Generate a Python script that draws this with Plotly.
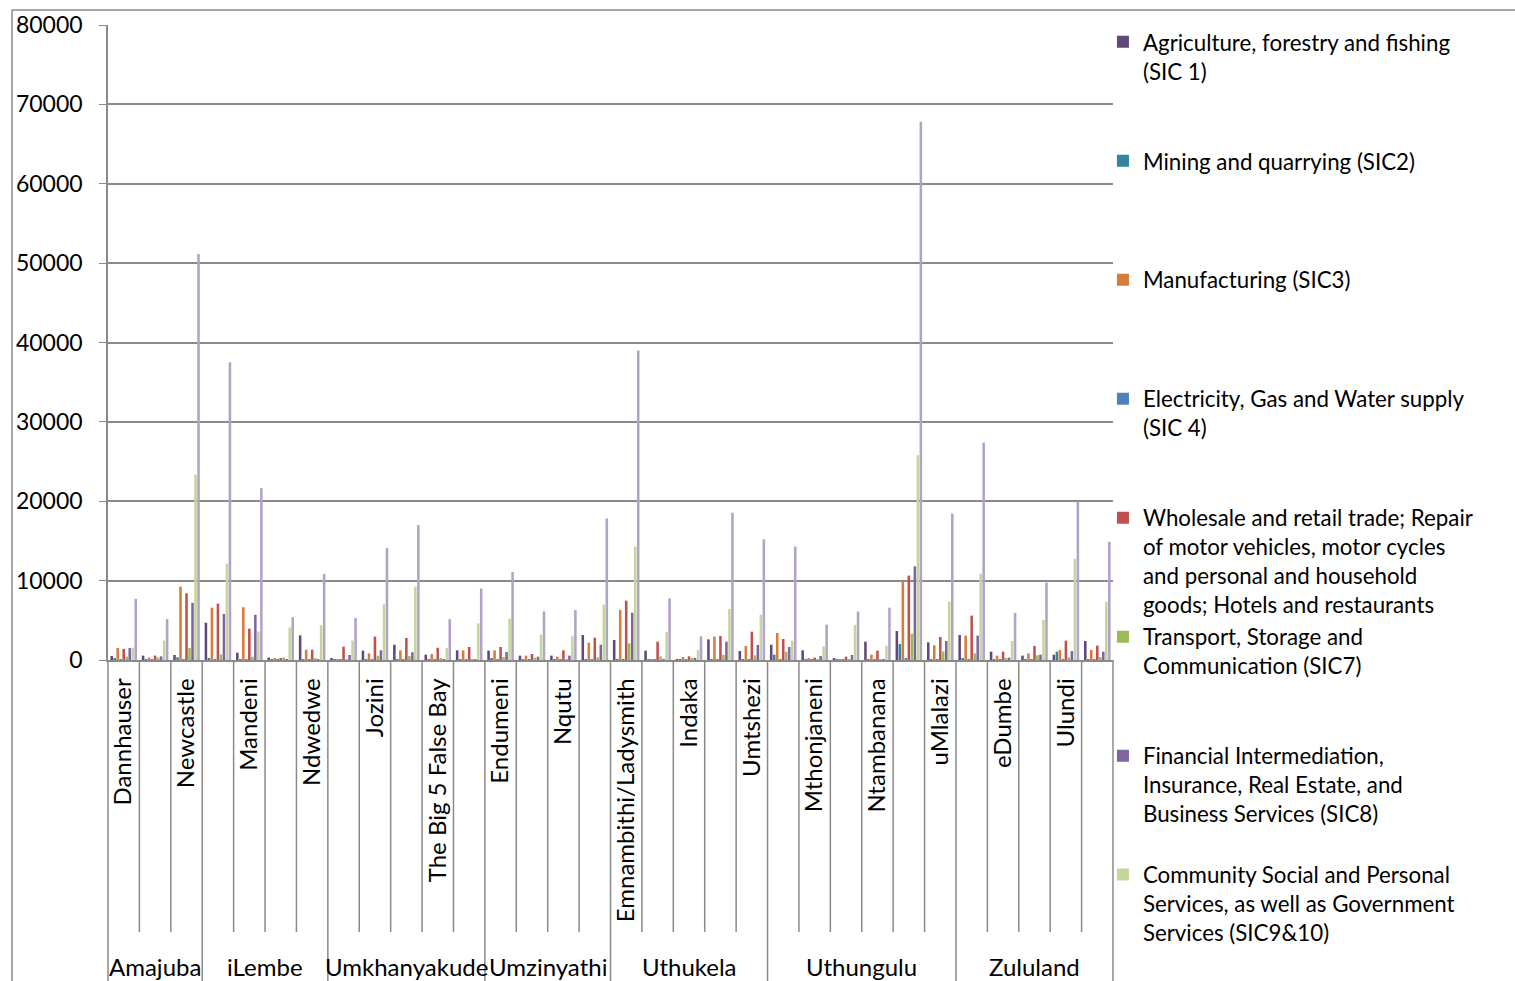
import plotly.graph_objects as go

municipalities = [
    "Dannhauser", "eMadlangeni", "Newcastle",
    "KwaDukuza", "Mandeni", "Maphumulo", "Ndwedwe",
    "Hlabisa", "Jozini", "Mtubatuba", "The Big 5 False Bay", "Umhlabuyalingana",
    "Endumeni", "Msinga", "Nqutu", "Umvoti",
    "Emnambithi/Ladysmith", "Imbabazane", "Indaka", "Okhahlamba", "Umtshezi",
    "Mbonambi", "Mthonjaneni", "Nkandla", "Ntambanana", "uMhlathuze", "uMlalazi",
    "Abaqulusi", "eDumbe", "Nongoma", "Ulundi", "uPhongolo",
]
districts = (
    ["Amajuba"] * 3 + ["iLembe"] * 4 + ["Umkhanyakude"] * 5 + ["Umzinyathi"] * 4
    + ["Uthukela"] * 5 + ["Uthungulu"] * 6 + ["Zululand"] * 5
)

agriculture   = [500, 550, 630, 4700, 920, 300, 3100, 170, 1180, 1930, 670, 1220, 1180, 550, 550, 3150,
                 2520, 1180, 60, 2600, 1130, 1930, 1220, 210, 2310, 3650, 2230, 3150, 1050, 550, 670, 2390]
mining        = [250, 30, 340, 170, 40, 10, 20, 10, 20, 30, 20, 10, 170, 10, 10, 20,
                 40, 10, 10, 30, 20, 670, 10, 10, 10, 2020, 30, 170, 10, 10, 1050, 20]
manufacturing = [1500, 300, 9250, 6600, 6650, 170, 1300, 80, 840, 1220, 760, 1220, 1220, 550, 420, 2180,
                 6300, 60, 380, 2940, 1760, 3400, 170, 40, 670, 9830, 1850, 3070, 550, 840, 1260, 1260]
electricity   = [50, 20, 100, 100, 60, 10, 30, 20, 30, 40, 30, 20, 40, 20, 20, 30,
                 100, 20, 10, 50, 40, 60, 20, 10, 20, 170, 40, 60, 20, 20, 50, 40]
wholesale     = [1400, 550, 8400, 7100, 3950, 170, 1300, 1680, 2950, 2770, 1550, 1640, 1640, 760, 1220, 2810,
                 7480, 2310, 460, 3020, 3570, 2650, 300, 420, 1180, 10630, 2900, 5590, 1050, 1760, 2440, 1810]
transport     = [420, 300, 1500, 700, 420, 340, 250, 100, 550, 500, 130, 80, 380, 300, 80, 340,
                 2100, 460, 250, 630, 590, 1050, 60, 40, 100, 3320, 1090, 840, 130, 590, 340, 380]
financial     = [1500, 460, 7200, 5800, 5700, 80, 100, 630, 1220, 970, 60, 60, 1010, 420, 550, 1930,
                 5960, 80, 170, 2310, 1890, 1640, 500, 630, 80, 11800, 2390, 3070, 300, 670, 1130, 1050]
community     = [1550, 2450, 23350, 12150, 3600, 4070, 4400, 2450, 7000, 9250, 1510, 4620, 5200, 3200, 3000, 6970,
                 14300, 3530, 1260, 6430, 5700, 2440, 1720, 4400, 1810, 25800, 7350, 10880, 2390, 5040, 12750, 7350]
total         = [7700, 5150, 51150, 37500, 21650, 5400, 10850, 5300, 14100, 17000, 5150, 9000, 11100, 6100, 6300, 17850,
                 39000, 7770, 2980, 18550, 15200, 14300, 4450, 6100, 6600, 67800, 18450, 27400, 5920, 9740, 19950, 14900]

series_names = [
    "Agriculture, forestry and fishing<br>(SIC 1)",
    "Mining and quarrying (SIC2)",
    "Manufacturing (SIC3)",
    "Electricity, Gas and Water supply<br>(SIC 4)",
    "Wholesale and retail trade; Repair<br>of motor vehicles, motor cycles<br>and personal and household<br>goods; Hotels and restaurants",
    "Transport, Storage and<br>Communication (SIC7)",
    "Financial Intermediation,<br>Insurance, Real Estate, and<br>Business Services (SIC8)",
    "Community Social and Personal<br>Services, as well as Government<br>Services (SIC9&10)",
    "Total",
]
series_values = [agriculture, mining, manufacturing, electricity, wholesale,
                 transport, financial, community, total]
series_colors = ["#5F497A", "#31859C", "#D97C38", "#4F81BD", "#C0504D",
                 "#9BBB59", "#8064A2", "#C3D69B", "#B3A2C7"]

FONT = "Lato"
LEGEND_LINES = 4

fig = go.Figure()
for i, (name, vals, col) in enumerate(zip(series_names, series_values, series_colors)):
    nlines = name.count("<br>") + 1
    legend_label = name + "<br>\u00a0" * max(0, LEGEND_LINES - nlines)
    fig.add_trace(go.Bar(
        x=municipalities, y=vals, name=legend_label,
        marker=dict(color=col, line=dict(width=0)),
        legendgroup=f"g{i}",
        showlegend=(name != "Total"),
        hovertemplate="%{x}: %{y}<extra>" + name.replace("<br>", " ") + "</extra>",
    ))

n = len(municipalities)
gray = "#8a8a8a"
shapes = []
# boundaries between categories (paper coordinates derived from category index)
for k in range(n + 1):
    is_group = k == 0 or k == n or districts[k] != districts[k - 1]
    shapes.append(dict(type="line", xref="paper", yref="paper",
                       x0=k / n, x1=k / n, y0=0, y1=-0.5055 if is_group else -0.4283,
                       line=dict(color=gray, width=1.5)))
# outer chart border (left and top)
shapes.append(dict(type="line", xref="paper", yref="paper", x0=-0.0955, x1=-0.0955,
                   y0=1.0236, y1=-0.52, line=dict(color=gray, width=1.5)))
shapes.append(dict(type="line", xref="paper", yref="paper", x0=-0.0955, x1=1.41,
                   y0=1.0236, y1=1.0236, line=dict(color=gray, width=1.5)))

annotations = []
group_names = []
for d in districts:
    if d not in group_names:
        group_names.append(d)
for g in group_names:
    idx = [i for i, d in enumerate(districts) if d == g]
    center = (idx[0] + idx[-1] + 1) / 2 / n
    annotations.append(dict(text=g, xref="paper", yref="paper", x=center, y=-0.482,
                            xanchor="center", yanchor="middle", showarrow=False,
                            font=dict(family=FONT, size=24, color="black")))

fig.update_layout(
    width=1515, height=981,
    margin=dict(l=108, r=402, t=25, b=321, autoexpand=False),
    paper_bgcolor="white", plot_bgcolor="white",
    barmode="group", bargap=0.14, bargroupgap=0.15,
    font=dict(family=FONT, color="black"),
    shapes=shapes, annotations=annotations,
    legend=dict(x=0.99, xanchor="left", y=1.0065, yanchor="top",
                font=dict(family=FONT, size=22.3, color="black"),
                tracegroupgap=0, valign="top", traceorder="normal",
                maxheight=975, bgcolor="rgba(0,0,0,0)"),
    showlegend=True,
)
fig.update_xaxes(
    type="category", range=[-0.5, n - 0.5],
    tickvals=municipalities[::2], tickangle=-90,
    tickfont=dict(family=FONT, size=24, color="black"),
    showline=True, linecolor=gray, linewidth=1.5,
    showgrid=False, ticks="", ticklabelstandoff=7,
)
fig.update_yaxes(
    range=[0, 80000], dtick=10000, tickformat="d",
    tickfont=dict(family=FONT, size=23, color="black"),
    showline=True, linecolor=gray, linewidth=1.5,
    showgrid=True, gridcolor=gray, gridwidth=1.5,
    ticks="outside", ticklen=7, tickcolor=gray, ticklabelstandoff=12,
    zeroline=False,
)

fig.write_html("out.html")
